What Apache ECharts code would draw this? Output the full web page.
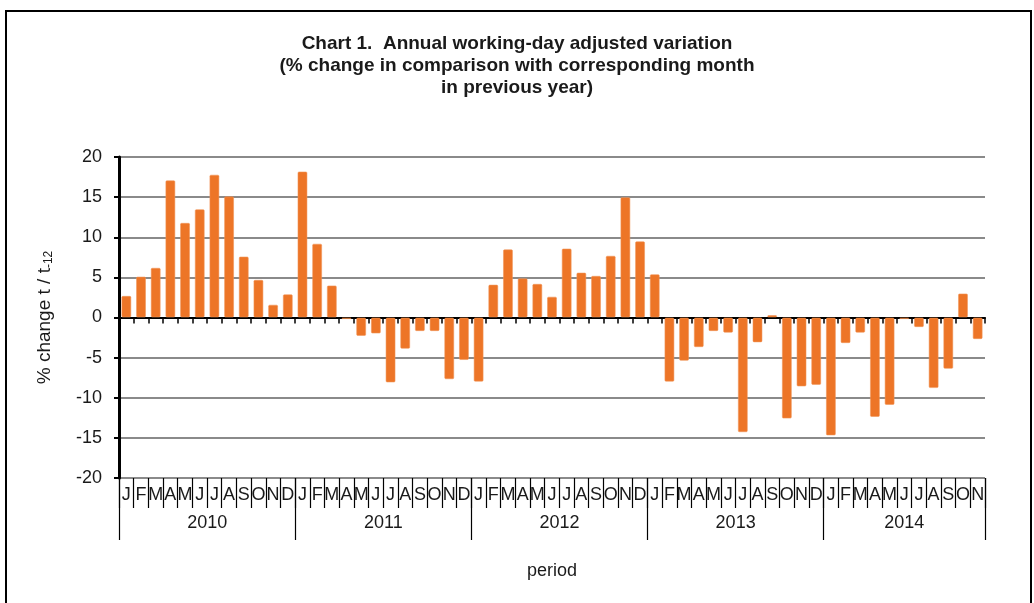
<!DOCTYPE html>
<html>
<head>
<meta charset="utf-8">
<script src="https://cdn.jsdelivr.net/npm/echarts@6/dist/echarts.min.js"></script>
<style>
  html, body { margin: 0; padding: 0; background: #fff; }
  #chart { width: 1034px; height: 603px; }
</style>
</head>
<body>
<div id="chart"></div>
<script>
const monthLetters = ['J', 'F', 'M', 'A', 'M', 'J', 'J', 'A', 'S', 'O', 'N', 'D']
const years = ['2010', '2011', '2012', '2013', '2014']
const monthsPerYear = [12, 12, 12, 12, 11]

const values2010 = [2.7, 5.1, 6.2, 17.1, 11.8, 13.5, 17.8, 15.1, 7.6, 4.7, 1.6, 2.9]
const values2011 = [18.2, 9.2, 4.0, -0.2, -2.3, -2.0, -8.1, -3.9, -1.7, -1.7, -7.7, -5.3]
const values2012 = [-8.0, 4.1, 8.5, 4.9, 4.2, 2.6, 8.6, 5.6, 5.2, 7.7, 15.0, 9.5]
const values2013 = [5.4, -8.0, -5.4, -3.7, -1.7, -1.9, -14.3, -3.1, 0.3, -12.6, -8.6, -8.4]
const values2014 = [-14.7, -3.2, -1.9, -12.4, -10.9, -0.2, -1.2, -8.8, -6.4, 3.0, -2.7]

const yTicks = [-20, -15, -10, -5, 0, 5, 10, 15, 20]

// one category per month: "2010-J", ...
const categories = []
const yearStart = []
years.forEach((y, yi) => {
  yearStart.push(categories.length)
  for (let m = 0; m < monthsPerYear[yi]; m++) categories.push(y + '-' + monthLetters[m])
})
const values = [].concat(values2010, values2011, values2012, values2013, values2014)

const font = 'Liberation Sans, Arial, sans-serif'
const textColor = '#1a1a1a'

const chart = echarts.init(document.getElementById('chart'))
chart.setOption({
  animation: false,
  title: {
    text: 'Chart 1.  Annual working-day adjusted variation\n(% change in comparison with corresponding month\nin previous year)',
    left: 'center',
    top: 28,
    textStyle: {
      fontFamily: font,
      fontSize: 19,
      fontWeight: 'bold',
      lineHeight: 22,
      color: textColor
    }
  },
  graphic: [
    {
      type: 'rect',
      shape: { x: 6, y: 11, width: 1025, height: 600 },
      style: { fill: 'none', stroke: '#000', lineWidth: 2 }
    }
  ],
  grid: {
    left: 119,
    right: 49,
    top: 157,
    bottom: 125
  },
  xAxis: [
    {
      type: 'category',
      data: categories,
      axisLine: { onZero: true, lineStyle: { color: '#000', width: 2 } },
      axisTick: { show: true, interval: 0, length: 6, lineStyle: { color: '#000', width: 1.5 } },
      axisLabel: { show: false },
      splitLine: { show: false }
    },
    {
      type: 'category',
      data: categories,
      position: 'bottom',
      axisLine: { onZero: false, show: false },
      axisTick: { show: true, interval: 0, length: 30, lineStyle: { color: '#000', width: 1.2 } },
      axisLabel: {
        interval: 0,
        margin: 8,
        fontFamily: font,
        fontSize: 18,
        color: textColor,
        formatter: v => v.split('-')[1]
      }
    },
    {
      type: 'category',
      data: categories,
      position: 'bottom',
      axisLine: { onZero: false, show: false },
      axisTick: {
        show: true,
        length: 62,
        interval: idx => yearStart.indexOf(idx) >= 0,
        lineStyle: { color: '#000', width: 1.2 }
      },
      axisLabel: {
        interval: 0,
        margin: 36,
        fontFamily: font,
        fontSize: 18,
        color: textColor,
        formatter: (v, idx) => {
          for (let yi = 0; yi < years.length; yi++) {
            const mid = yearStart[yi] + Math.floor((monthsPerYear[yi] - 1) / 2)
            if (idx === mid) {
              return monthsPerYear[yi] % 2 === 0 ? '{s|' + years[yi] + '}' : years[yi]
            }
          }
          return ''
        },
        rich: {
          s: { fontFamily: font, fontSize: 18, color: textColor, padding: [0, 0, 0, 15] }
        }
      },
      name: 'period',
      nameLocation: 'middle',
      nameGap: 84,
      nameTextStyle: { fontFamily: font, fontSize: 18, color: textColor }
    }
  ],
  yAxis: {
    type: 'value',
    min: yTicks[0],
    max: yTicks[yTicks.length - 1],
    interval: 5,
    axisLine: { show: true, lineStyle: { color: '#000', width: 3 } },
    axisTick: { show: true, length: 5, lineStyle: { color: '#000', width: 2 } },
    axisLabel: {
      margin: 17,
      fontFamily: font,
      fontSize: 18,
      color: textColor
    },
    splitLine: { show: true, lineStyle: { color: '#8a8a8a', width: 2 } },
    name: '{a|% change t / t}{b|-12}',
    nameLocation: 'middle',
    nameGap: 64,
    nameRotate: 90,
    nameTextStyle: {
      rich: {
        a: { fontFamily: font, fontSize: 19, color: textColor },
        b: { fontFamily: font, fontSize: 12, color: textColor, padding: [9, 0, 0, 0] }
      }
    }
  },
  series: [
    {
      type: 'bar',
      xAxisIndex: 0,
      data: values,
      barCategoryGap: '32%',
      itemStyle: {
        color: '#ED7527',
        borderColor: 'rgba(240,150,90,0.55)',
        borderWidth: 1,
        borderRadius: 1
      }
    }
  ]
})
</script>
</body>
</html>
